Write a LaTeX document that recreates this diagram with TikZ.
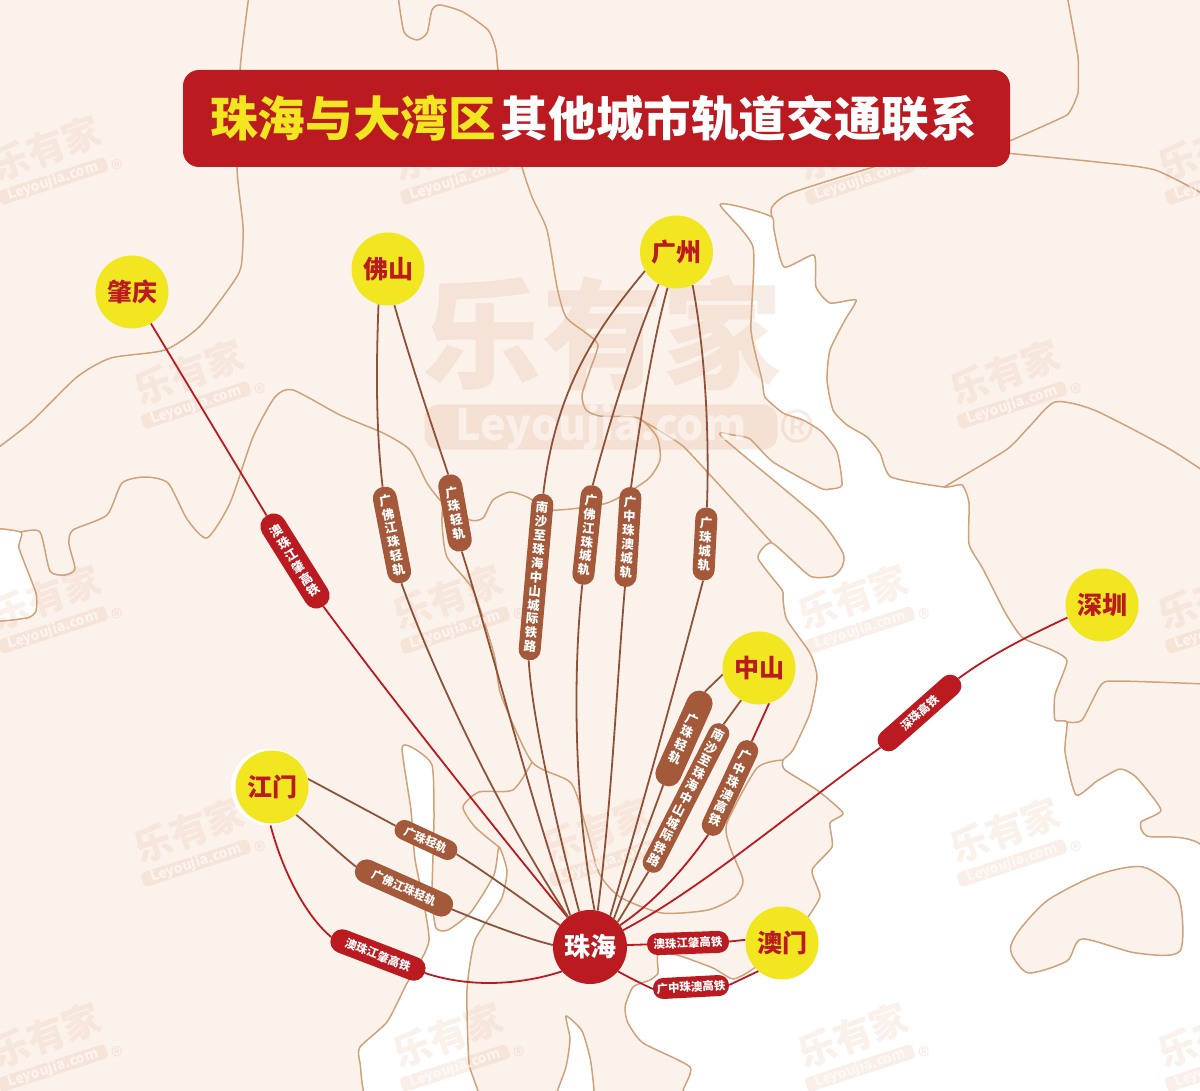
\documentclass[tikz,border=0pt]{standalone}
\usepackage{fontspec}
\setmainfont{Noto Sans CJK SC}
\newfontfamily\cjkheavy{Noto Sans CJK SC Black}
\definecolor{mapLand}{HTML}{FCF2EC}
\definecolor{mapCoast}{HTML}{CFA27A}
\definecolor{markTan}{HTML}{DD9F78}
\definecolor{railRed}{HTML}{BA1A20}
\definecolor{railBrown}{HTML}{A4593A}
\definecolor{lineBrown}{HTML}{8E5238}
\definecolor{cityYellow}{HTML}{F1E620}
\newcommand{\pillfont}{\bfseries\fontsize{11.5}{14}\selectfont}
\newcommand{\vpillfont}{\bfseries\fontsize{12.5}{14}\selectfont\lineskiplimit=-20pt}
\newcommand{\cityfont}{\cjkheavy\fontsize{25}{25}\selectfont}
\usetikzlibrary{positioning}
\pgfdeclarelayer{map}
\pgfdeclarelayer{rails}
\pgfsetlayers{map,rails,main}

\begin{document}
\begin{tikzpicture}
		[x=1pt, y=-1pt,
		city/.style ={circle, fill=cityYellow, text=railRed, font=\cityfont, minimum size=73pt, inner sep=0pt},
		hub/.style ={circle, fill=railRed, text=white, font=\cjkheavy\fontsize{26}{26}\selectfont, minimum size=74pt, inner sep=0pt},
		vbrown/.style 2 args={rectangle, fill=railBrown, text=white, font=\vpillfont, align=center, inner sep=0pt, minimum width=#1pt, minimum height=#2pt, rounded corners=0.48*#1pt},
		vred/.style 2 args={vbrown={#1}{#2}, fill=railRed},
		hbrown/.style 2 args={rectangle, fill=railBrown, text=white, font=\pillfont, inner sep=0pt, minimum width=#1pt, minimum height=#2pt, rounded corners=0.48*#2pt},
		hred/.style 2 args={hbrown={#1}{#2}, fill=railRed},
		brownrail/.style ={lineBrown, line width=1.8pt},
		redrail/.style ={railRed, line width=1.8pt},
		coast/.style ={mapCoast, line width=1.5pt, line join=round},
		wmtext/.style ={text=markTan, text opacity=0.14, font=\bfseries\fontsize{38}{38}\selectfont, rotate=20, inner sep=0pt},
		wmpill/.style ={fill=markTan, fill opacity=0.17, text=white, text opacity=0.6, font=\bfseries\fontsize{14}{14}\selectfont, rotate=18, minimum width=113pt, minimum height=14pt, inner sep=0pt, rounded corners=4pt},
		wmreg/.style ={text=markTan, text opacity=0.2, font=\fontsize{24}{24}\selectfont, inner sep=0pt}]
		\useasboundingbox (0,0) rectangle (1200,1091);

		% map
		\begin{pgfonlayer}{map}
		\clip (0,0) rectangle (1200,1091);
		\fill[mapLand] (0,0) rectangle (1200,1091);
		\draw[coast, fill=white] plot[smooth cycle, tension=.35] coordinates {(720,205) (745,208) (772,217) (774,230) (784,267) (814,255) (816,287) (830,303) (856,300) (845,320) (830,350) (827,380) (833,410) (847,425) (867,437) (880,453) (891,477) (944,487) (962,485) (969,503) (969,544) (983,569) (1006,614) (1023,638) (1052,650) (1067,661) (1055,695) (1055,720) (1067,722) (1065,752) (1076,795) (1097,781) (1120,769) (1136,777) (1161,810) (1141,822) (1147,836) (1210,857) (1230,1120) (683,1120) (683,1091) (690,1067) (643,1043) (628,1023) (625,1007) (633,987) (650,980) (658,973) (658,955) (677,955) (713,968) (733,979) (753,969) (790,940) (808,917) (820,896) (812,870) (832,847) (830,823) (843,813) (817,790) (785,770) (783,760) (793,750) (810,713) (817,677) (810,653) (787,620) (783,600) (782,590) (758,558) (772,543) (810,576) (833,576) (842,567) (843,553) (817,517) (722,437) (733,435) (750,439) (773,462) (820,488) (830,489) (842,485) (837,452) (822,432) (803,420) (783,413) (765,397) (762,380) (751,330) (753,247)};
		\draw[coast, fill=white] plot[smooth cycle, tension=.35] coordinates {(402,748) (413,748) (432,765) (434,818) (432,896) (436,928) (448,930) (471,912) (494,875) (499,847) (507,871) (501,900) (475,940) (467,990) (469,1063) (478,1110) (373,1110) (360,1063) (360,1047) (387,1022) (406,985) (429,940) (415,859) (411,810)};
		\draw[coast, fill=white] plot[smooth cycle, tension=.35] coordinates {(566,1016) (582,1031) (591,1063) (593,1110) (553,1110) (566,1067) (570,1039)};
		\draw[coast, fill=white] plot[smooth cycle, tension=.3] coordinates {(-20,532) (21,532) (19,548) (36,593) (36,611) (27,618) (-20,618)};
		\draw[coast, fill=mapLand] plot[smooth cycle, tension=.45] coordinates {(1011,945) (1021,928) (1048,900) (1097,875) (1143,867) (1178,894) (1180,951) (1136,953) (1082,939) (1067,961) (1029,973) (1013,957)};
		\draw[coast] plot[smooth, tension=.4] coordinates {(249,-5) (240,70) (237,167) (243,227) (241,267) (230,287) (199,327) (165,350) (111,358) (77,377) (31,422) (-5,450)};
		\draw[coast] plot[smooth, tension=.4] coordinates {(398,-5) (404,32) (417,40) (427,33) (432,10) (440,5) (463,12) (488,30) (496,50) (499,75) (520,160) (532,197) (547,230) (557,287) (566,317) (586,333) (598,345) (590,370) (582,395) (586,410) (600,416) (638,418) (657,437) (660,460) (647,480) (607,503) (553,510) (527,497) (510,492) (493,500) (483,518) (470,520) (443,503) (427,483) (410,450) (383,433) (340,415) (293,390) (275,397) (253,437) (230,503) (207,538) (187,519) (168,483) (145,477) (122,483) (107,515) (73,530) (69,544) (75,569) (65,575) (50,571) (40,532) (21,532)};
		\draw[coast] plot[smooth, tension=.4] coordinates {(443,503) (442,523) (447,557) (473,590) (494,654) (501,695) (532,762) (571,783) (586,827) (599,873) (620,897) (662,913) (708,910) (735,897) (743,880) (730,847) (727,823) (757,768) (783,760)};
		\draw[coast] plot[smooth, tension=.4] coordinates {(532,762) (513,790) (479,792) (463,807) (475,827) (499,847)};
		\draw[coast] plot[smooth, tension=.2] coordinates {(1067,-5) (1078,57) (1078,93) (1067,115) (1005,143)};
		\draw[coast] plot[smooth, tension=.4] coordinates {(1005,153) (1097,162) (1155,170) (1205,195)};
		\draw[coast] plot[smooth, tension=.4] coordinates {(880,165) (791,193) (772,207) (772,217)};
		\draw[coast] plot[smooth, tension=.2] coordinates {(638,418) (684,447) (772,543)};
		\draw[coast] plot[smooth, tension=.4] coordinates {(944,487) (1006,450) (1029,427) (1055,402) (1094,410) (1166,447) (1205,472)};
		\draw[coast] plot[smooth, tension=.4] coordinates {(1067,722) (1082,720) (1101,685) (1117,681) (1205,684)};

		% watermarks
		\draw (602,333) node[text=markTan, text opacity=0.18, font=\bfseries\fontsize{120}{120}\selectfont, inner sep=0pt] (bigmark) {乐有家};
		\draw (601,427) node[fill=markTan, fill opacity=0.2, text=white, text opacity=0.5, font=\bfseries\fontsize{43}{43}\selectfont, minimum width=353pt, minimum height=45pt, inner sep=0pt, rounded corners=14pt] (bigpill) {Leyoujia.com};
		\draw (797,440) node[wmreg, font=\fontsize{76}{76}\selectfont] (bigreg) {®};
		\foreach \wx/\wy in {46/148, 448/148, 853/148, 1213/148, 189/372, 1005/372, 46/597, 448/597, 853/597, 1213/597, 189/830, 597/830, 1005/830, 46/1035, 448/1035, 853/1035, 1213/1035}
		{
			\node[wmtext] (wmt\wx-\wy) at (\wx,\wy) {乐有家};
			\node[wmpill] (wmp\wx-\wy) at (\wx+7,\wy+33) {Leyoujia.com};
			\node[wmreg] (wmr\wx-\wy) at (\wx+71,\wy+21) {®};
		}
		\end{pgfonlayer}

		% title
		\draw (596.5,118.5) node[rectangle, fill=railRed, text=white, font=\cjkheavy\fontsize{47.6}{47.6}\selectfont, minimum width=827pt, minimum height=97pt, inner sep=0pt, rounded corners=16pt] (title) {\hspace*{-3pt}\textcolor{cityYellow}{珠海与大湾区}\hspace{5pt}其他城市轨道交通联系\hspace*{3pt}};

		% cities
		\draw (590,947) node[hub] (zh) {珠海};
		\fill[white] (269.5,787) circle (38.5pt);
		\draw (132,292) node[city] (zq) {肇庆};
		\draw (388,269) node[city] (fs) {佛山};
		\draw (676.5,252) node[city] (gz) {广州};
		\draw (1102,605) node[city] (sz) {深圳};
		\draw (759,668) node[city] (zs) {中山};
		\draw (782,943) node[city] (am) {澳门};
		\draw (272,787) node[city] (jm) {江门};

		% line names
		\draw (295,561) node[vred={26}{107}, rotate=32] (azjz1) {澳\\珠\\江\\肇\\高\\铁};
		\draw (392,535) node[vbrown={24}{98}, rotate=11] (gfjz) {广\\佛\\江\\珠\\轻\\轨};
		\draw (455,513) node[vbrown={24}{78}, rotate=10] (gzqg1) {广\\珠\\轻\\轨};
		\draw (536,577) node[vbrown={22}{167}, rotate=-5] (nszs1) {南\\沙\\至\\珠\\海\\中\\山\\城\\际\\铁\\路};
		\draw (587.5,535) node[vbrown={22}{100}, rotate=-6] (gfcg) {广\\佛\\江\\珠\\城\\轨};
		\draw (628,537) node[vbrown={22}{100}, rotate=-3.5] (gzac) {广\\中\\珠\\澳\\城\\轨};
		\draw (705,544) node[vbrown={22}{73}, rotate=-3] (gzcg) {广\\珠\\城\\轨};
		\draw (684,738.5) node[vbrown={26}{102}, rotate=-24] (gzqg2) {广\\珠\\轻\\轨};
		\draw (686,798) node[vbrown={21}{165}, rotate=-27] (nszs2) {南\\沙\\至\\珠\\海\\中\\山\\城\\际\\铁\\路};
		\draw (730,788) node[vbrown={22}{103}, rotate=-25] (gzag1) {广\\中\\珠\\澳\\高\\铁};
		\draw (919.5,713) node[hred={104}{22}, rotate=41.5] (szgt) {深珠高铁};
		\draw (426,840) node[hbrown={67}{20}, rotate=-25] (gzqg3) {广珠轻轨};
		\draw (404,888) node[hbrown={105}{24}, rotate=-24] (gfqg) {广佛江珠轻轨};
		\draw (378,955) node[hred={100}{24}, rotate=-21] (azjz2) {澳珠江肇高铁};
		\draw (688,943) node[hred={82}{22}, rotate=2] (azjz3) {澳珠江肇高铁};
		\draw (691,987) node[hred={76}{21}, rotate=3] (gzag2) {广中珠澳高铁};

		\begin{pgfonlayer}{rails}
		\draw (zq.301) edge [redrail] (azjz1.north);
		\draw[redrail] (azjz1.south) .. controls (400,710) and (500,835) .. (zh.127);

		\draw[brownrail] (fs.255) .. controls (376,370) and (376,430) .. (gfjz.north);
		\draw[brownrail] (gfjz.south) .. controls (440,690) and (510,830) .. (zh.126);
		\draw[brownrail] (fs.280) .. controls (410,360) and (430,420) .. (gzqg1.north);
		\draw[brownrail] (gzqg1.south) .. controls (490,640) and (530,800) .. (zh.122);

		\draw[brownrail] (gz.211) .. controls (600,325) and (556,385) .. (nszs1.north);
		\draw[brownrail] (nszs1.south) .. controls (532,720) and (560,840) .. (zh.107);
		\draw[brownrail] (gz.241) .. controls (635,340) and (610,420) .. (gfcg.north);
		\draw[brownrail] (gfcg.south) .. controls (572,680) and (575,810) .. (zh.83);
		\draw[brownrail] (gz.256) .. controls (653,340) and (640,420) .. (gzac.north);
		\draw[brownrail] (gzac.south) .. controls (617,680) and (612,800) .. (zh.78);
		\draw[brownrail] (gz.296) .. controls (703,340) and (710,420) .. (gzcg.north);
		\draw[brownrail] (gzcg.south) .. controls (685,650) and (650,780) .. (zh.57);

		\draw (zs.190) edge [brownrail] (gzqg2.north);
		\draw (gzqg2.south) edge [brownrail] (zh.50);
		\draw (zs.241) edge [brownrail] (nszs2.north);
		\draw (nszs2.south) edge [brownrail] (zh.42);
		\draw (zs.286) edge [redrail] (gzag1.north);
		\draw[redrail] (gzag1.south) .. controls (680,875) and (650,905) .. (zh.36);

		\draw[redrail] (sz.200) .. controls (1030,635) and (990,655) .. (szgt.east);
		\draw[redrail] (szgt.west) .. controls (800,805) and (700,890) .. (zh.27);

		\draw (jm.13) edge [brownrail] (gzqg3.west);
		\draw[brownrail] (gzqg3.east) .. controls (490,875) and (530,905) .. (zh.144);
		\draw[brownrail] (jm.311) .. controls (315,830) and (335,850) .. (gfqg.west);
		\draw[brownrail] (gfqg.east) .. controls (490,925) and (525,938) .. (zh.177);
		\draw[redrail] (jm.267) .. controls (282,870) and (305,915) .. (azjz2.west);
		\draw[redrail] (azjz2.east) .. controls (470,988) and (520,985) .. (zh.221);

		\draw (zh.3) edge [redrail] (azjz3.west);
		\draw (azjz3.east) edge [redrail] (am.175);
		\draw[redrail] (zh.319) .. controls (630,978) and (640,983) .. (gzag2.west);
		\draw (gzag2.east) edge [redrail] (am.230);
		\end{pgfonlayer}

	\end{tikzpicture}
\end{document}
